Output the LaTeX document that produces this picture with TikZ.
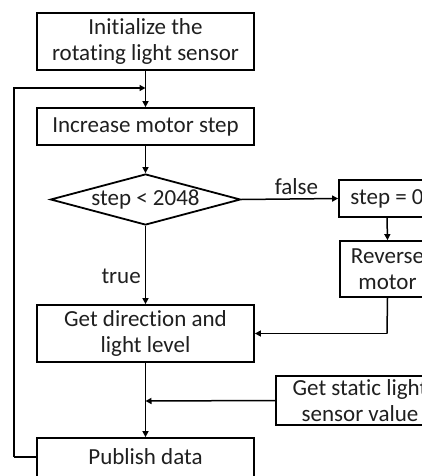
\documentclass[tikz,border=0pt]{standalone}
\usepackage{fontspec}
\setmainfont{Carlito}[Ligatures=CommonOff]
\usetikzlibrary{shapes.geometric,arrows.meta}
\begin{document}
\begin{tikzpicture}[x=1pt,y=-1pt,
  every node/.style={font=\fontsize{23}{26}\selectfont, text=black!88},
  box/.style={draw, line width=1.8pt, rectangle, inner sep=0pt, align=center},
  decision/.style={draw, line width=1.8pt, diamond, inner sep=0pt, aspect=3.7,
    minimum width=190pt, minimum height=51pt},
  flow/.style={line width=1.5pt, -{Triangle[length=6pt,width=6pt]}},
  plain/.style={line width=1.5pt},
  lbl/.style={inner sep=1pt}]
\useasboundingbox (0,0) rectangle (422,476);
\clip (0,0) rectangle (422,476);
\fill[white] (0,0) rectangle (422,476);

% main column
\node[box, minimum width=217pt, minimum height=57pt] (init) at (145.5,41.5)
  {Initialize the\\rotating light sensor};
\node[box, minimum width=217pt, minimum height=37pt] (incr) at (145.5,126.5)
  {Increase motor step};
\node[decision] (dec) at (145.5,199.5) {step < 2048};
\node[box, minimum width=217pt, minimum height=57pt] (getdir) at (145.5,333.5)
  {Get direction and\\light level};
\node[box, minimum width=217pt, minimum height=42pt] (pub) at (145.5,459)
  {};
\node at (145.5,457) (pubtxt) {Publish data};

% right column
\node[box, minimum width=96pt, minimum height=37pt] (zero) at (387,198.5)
  {step = 0};
\node[box, minimum width=95pt, minimum height=56pt] (rev) at (387.5,269)
  {Reverse\\motor};
\node[box, minimum width=168pt, minimum height=49pt] (static) at (360,400.5)
  {Get static light\\sensor value};

% junction points on the main line
\coordinate (j1) at (145.5,88);
\coordinate (j2) at (145.5,401);
\coordinate (back) at (14,457);
\coordinate (revturn) at (387,333.5);

% connectors
\draw[flow] (init.south) -- (incr.north);
\draw[flow] (incr.south) -- (dec.north);
\draw[flow] (dec.east) -- node[lbl, above=3pt, pos=0.57] {false} (zero.west);
\draw[flow] (dec.south) -- node[lbl, left=3pt, pos=0.65] {true} (getdir.north);
\draw[flow] (zero.south) -- (rev.north);
\draw[plain] (rev.south) -- (revturn);
\draw[flow] (revturn) -- (getdir.east);
\draw[flow] (getdir.south) -- (pub.north);
\draw[flow] (static.west) -- (j2);
\draw[plain] (pub.west |- back) -- (back);
\draw[flow] (back) |- (j1);
\end{tikzpicture}
\end{document}
